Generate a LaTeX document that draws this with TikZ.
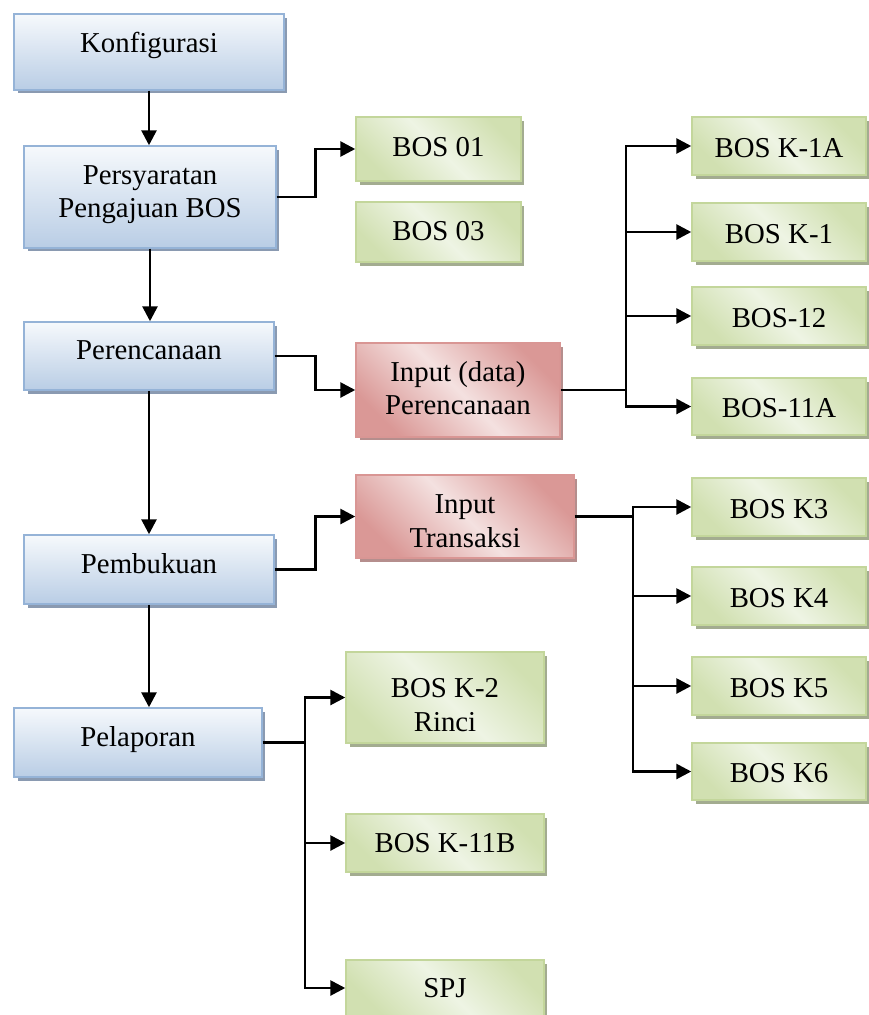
\documentclass[tikz,border=0pt]{standalone}
\usepackage{fontspec}
\setmainfont{Liberation Serif}
\usetikzlibrary{arrows.meta,shadows}
\definecolor{bBorder}{HTML}{95B3D7}
\definecolor{bTop}{HTML}{F6F9FC}
\definecolor{bBot}{HTML}{B9CDE5}
\definecolor{bShadow}{HTML}{8A9AB1}
\definecolor{gBorder}{HTML}{C3D69B}
\definecolor{gDark}{HTML}{D1E0B1}
\definecolor{gLight}{HTML}{EEF4E4}
\definecolor{gShadow}{HTML}{A3AC90}
\definecolor{rBorder}{HTML}{D99694}
\definecolor{rDark}{HTML}{DA9896}
\definecolor{rLight}{HTML}{F4E1E0}
\definecolor{rShadow}{HTML}{B58E8D}
\begin{document}
\begin{tikzpicture}[x=0.02cm,y=-0.02cm,
  every node/.style={font=\fontsize{16.4}{19}\selectfont, align=center, inner sep=0pt},
  tpos/.style 2 args={execute at begin node={\rule{0pt}{#1}}, execute at end node={\rule[-#2]{0pt}{#2}}},
  boxbase/.style={rectangle, line width=0.03cm},
  bluebox/.style={boxbase, draw=bBorder, top color=bTop, bottom color=bBot,
    general shadow={fill=bShadow, shadow xshift=0.07cm, shadow yshift=-0.07cm}},
  greenbox/.style={boxbase, draw=gBorder, top color=gDark, bottom color=gDark, middle color=gLight, shading angle=-45,
    general shadow={fill=gShadow, shadow xshift=0.07cm, shadow yshift=-0.07cm}},
  redbox/.style={boxbase, draw=rBorder, top color=rDark, bottom color=rDark, middle color=rLight, shading angle=-45,
    general shadow={fill=rShadow, shadow xshift=0.07cm, shadow yshift=-0.07cm}},
  rightbox/.style={greenbox, minimum width=3.48cm, tpos={13pt}{0pt}},
  conn/.style={line width=0.055cm, black},
  arr/.style={conn, -{Triangle[length=0.3cm,width=0.3cm]}}
]
\useasboundingbox (0,0) rectangle (869,1015);

% left column
\node[bluebox, minimum width=5.4cm, minimum height=1.52cm, tpos={12pt}{11.4pt}] (konf) at (149,52) {Konfigurasi};
\node[bluebox, minimum width=5.04cm, minimum height=2.04cm, tpos={12pt}{6.3pt}] (pers) at (150,197) {Persyaratan\\Pengajuan BOS};
\node[bluebox, minimum width=5.0cm, minimum height=1.36cm, tpos={12pt}{8.5pt}] (peren) at (149,356) {Perencanaan};
\node[bluebox, minimum width=5.0cm, minimum height=1.38cm, tpos={12pt}{7.9pt}] (pemb) at (149,569.5) {Pembukuan};
\node[bluebox, minimum width=4.96cm, minimum height=1.38cm, tpos={12pt}{7.9pt}] (pel) at (138,742.5) {Pelaporan};

% middle column
\node[greenbox, minimum width=3.3cm, minimum height=1.28cm, tpos={12pt}{4pt}] (bos01) at (438.5,149) {BOS 01};
\node[greenbox, minimum width=3.3cm, minimum height=1.2cm, tpos={12pt}{2.3pt}] (bos03) at (438.5,232) {BOS 03};
\node[redbox, minimum width=4.08cm, minimum height=1.88cm, tpos={12pt}{2.3pt}] (inpd) at (458,390) {Input (data)\\Perencanaan};
\node[redbox, minimum width=4.36cm, minimum height=1.66cm, tpos={35pt}{0pt}] (inpt) at (465,516.5) {Input\\Transaksi};
\node[greenbox, minimum width=3.96cm, minimum height=1.82cm, tpos={38.4pt}{0pt}] (k2) at (445,697.5) {BOS K-2\\Rinci};
\node[greenbox, minimum width=3.96cm, minimum height=1.16cm, tpos={12pt}{1.1pt}] (k11b) at (445,843) {BOS K-11B};
\node[greenbox, minimum width=3.96cm, minimum height=1.12cm, tpos={12pt}{1.1pt}] (spj) at (445,988) {SPJ};

% right column
\node[rightbox, minimum height=1.16cm] (k1a) at (779,146) {BOS K-1A};
\node[rightbox, minimum height=1.16cm] (k1) at (779,232) {BOS K-1};
\node[rightbox, minimum height=1.16cm] (b12) at (779,316) {BOS-12};
\node[rightbox, minimum height=1.14cm] (b11a) at (779,406.5) {BOS-11A};
\node[rightbox, minimum height=1.16cm] (k3) at (779,507) {BOS K3};
\node[rightbox, minimum height=1.16cm] (k4) at (779,596) {BOS K4};
\node[rightbox, minimum height=1.16cm] (k5) at (779,686) {BOS K5};
\node[rightbox, minimum height=1.14cm] (k6) at (779,771.5) {BOS K6};

% vertical flow
\draw[arr] (konf.south) -- (konf.south |- pers.north);
\draw[arr] (pers.south) -- (pers.south |- peren.north);
\draw[arr] (peren.south) -- (peren.south |- pemb.north);
\draw[arr] (pemb.south) -- (pemb.south |- pel.north);

% side connectors
\draw[arr] (pers.east) -- ++(39,0) |- (bos01.west);
\draw[arr] (peren.east) -- ++(41,0) |- (inpd.west);
\draw[arr] (pemb.east) -- ++(41,0) |- (inpt.west);

% fan-outs
\coordinate (j1) at (626,390);
\draw[conn] (inpd.east) -- (j1);
\draw[arr] (j1) |- (k1a.west);
\draw[arr] (j1) |- (k1.west);
\draw[arr] (j1) |- (b12.west);
\draw[arr] (j1) |- (b11a.west);

\coordinate (j2) at (633,516.5);
\draw[conn] (inpt.east) -- (j2);
\draw[arr] (j2) |- (k3.west);
\draw[arr] (j2) |- (k4.west);
\draw[arr] (j2) |- (k5.west);
\draw[arr] (j2) |- (k6.west);

\coordinate (j3) at (305,742.5);
\draw[conn] (pel.east) -- (j3);
\draw[arr] (j3) |- (k2.west);
\draw[arr] (j3) |- (k11b.west);
\draw[arr] (j3) |- (spj.west);
\end{tikzpicture}
\end{document}
